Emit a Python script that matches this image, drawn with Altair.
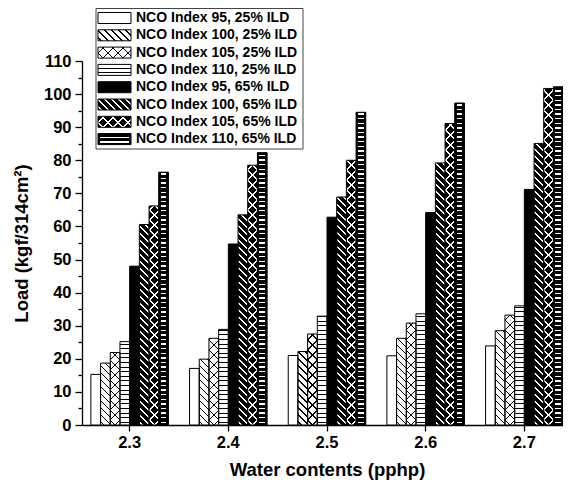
import altair as alt

# ---------------- data ----------------
water = ["2.3", "2.4", "2.5", "2.6", "2.7"]
series = [
    "NCO Index 95, 25% ILD",
    "NCO Index 100, 25% ILD",
    "NCO Index 105, 25% ILD",
    "NCO Index 110, 25% ILD",
    "NCO Index 95, 65% ILD",
    "NCO Index 100, 65% ILD",
    "NCO Index 105, 65% ILD",
    "NCO Index 110, 65% ILD",
]
v95_25 = [15.3, 17.1, 21.0, 20.9, 23.9]
v100_25 = [18.7, 19.9, 22.2, 26.2, 28.5]
v105_25 = [21.9, 26.2, 27.5, 30.8, 33.2]
v110_25 = [25.2, 28.9, 32.9, 33.6, 36.0]
v95_65 = [48.0, 54.7, 62.8, 64.2, 71.2]
v100_65 = [60.6, 63.5, 68.9, 79.2, 85.1]
v105_65 = [66.2, 78.5, 80.0, 91.1, 101.7]
v110_65 = [76.4, 82.3, 94.5, 97.3, 102.2]
series_values = [v95_25, v100_25, v105_25, v110_25, v95_65, v100_65, v105_65, v110_65]

# ---------------- layout / style ----------------
FONT = "Liberation Sans"
PLOT_W, PLOT_H = 481, 364
X_RANGE = 490          # x axis runs on past the right edge, as in the original
Y_MAX = 110
PAD_INNER, PAD_OUTER = 0.214, 0.09
STEP = X_RANGE / (len(water) - PAD_INNER + 2 * PAD_OUTER)
BAR_W = STEP * (1 - PAD_INNER) / len(series)
PX_PER_UNIT = PLOT_H / Y_MAX
CLEAR = "rgba(0,0,0,0)"

# (background, line colour, pattern kind)
styles = [
    ("white", "black", None),
    ("white", "black", "back"),
    ("white", "black", "cross"),
    ("white", "black", "horiz"),
    ("black", "black", None),
    ("black", "white", "back"),
    ("black", "white", "cross"),
    ("black", "white", "horiz"),
]


def stripe_stops(total, period, lw, phase, bg, fg):
    stops = [{"offset": 0.0, "color": bg}]
    c = phase
    while c - period > -lw:
        c -= period
    while c - lw / 2 < total:
        a = max(0.0, c - lw / 2)
        b = min(total, c + lw / 2)
        if b > a:
            oa, ob = round(a / total, 4), round(b / total, 4)
            stops += [
                {"offset": oa, "color": bg},
                {"offset": oa, "color": fg},
                {"offset": ob, "color": fg},
                {"offset": ob, "color": bg},
            ]
        c += period
    stops.append({"offset": 1.0, "color": bg})
    return stops


def diag(w, h, direction, period, lw, bg, fg):
    total = w + h
    t = total / (w * w + h * h)
    if direction == "back":
        g = {"gradient": "linear", "x1": 0, "y1": 1, "x2": t * w, "y2": 1 - t * h}
        phase = period / 2
    else:
        g = {"gradient": "linear", "x1": 0, "y1": 0, "x2": t * w, "y2": t * h}
        phase = (h + period / 2) % period
    g["stops"] = stripe_stops(total, period, lw * 1.414, phase, bg, fg)
    return g


def horiz(w, h, period, lw, bg, fg):
    return {"gradient": "linear", "x1": 0, "y1": 1, "x2": 0, "y2": 0,
            "stops": stripe_stops(h, period, lw, period * 0.6, bg, fg)}


def side_margins(w, m):
    f = round(m / w, 4)
    return {"gradient": "linear", "x1": 0, "y1": 0, "x2": 1, "y2": 0,
            "stops": [{"offset": 0, "color": "black"}, {"offset": f, "color": "black"},
                      {"offset": f, "color": CLEAR}, {"offset": 1 - f, "color": CLEAR},
                      {"offset": 1 - f, "color": "black"}, {"offset": 1, "color": "black"}]}


def pattern(si, w, h):
    bg, fg, kind = styles[si]
    lw = 1.0 if fg == "black" else 1.4
    if kind is None:
        return bg, "none"
    if kind == "back":
        return diag(w, h, "back", 7, lw, bg, fg), "none"
    if kind == "cross":
        return diag(w, h, "back", 10, lw, bg, fg), diag(w, h, "fwd", 10, lw, CLEAR, fg)
    g1 = horiz(w, h, 4.6, lw, bg, fg)
    g2 = side_margins(w, 2.0) if bg == "black" else "none"
    return g1, g2


bar_rows = []
for si, (name, vals) in enumerate(zip(series, series_values)):
    for wi, wc in enumerate(water):
        g1, g2 = pattern(si, BAR_W, vals[wi] * PX_PER_UNIT)
        bar_rows.append({"water": wc, "sid": si, "series": name, "load": vals[wi], "g1": g1, "g2": g2})

SYM_W, SYM_H = 33, 11
ROW_STEP = 17.3
leg_rows = []
for si, name in enumerate(series):
    g1, g2 = pattern(si, SYM_W, SYM_H)
    leg_rows.append({"sid": si, "label": name, "g1": g1, "g2": g2,
                     "y0": si - SYM_H / 2 / ROW_STEP, "y1": si + SYM_H / 2 / ROW_STEP})

# ---------------- bars ----------------
x_enc = alt.X("water:N", sort=water,
              scale=alt.Scale(paddingInner=PAD_INNER, paddingOuter=PAD_OUTER, range=[0, X_RANGE]),
              axis=alt.Axis(title="Water contents (pphp)", labelAngle=0, labelFontSize=16.5,
                            labelFontWeight="bold", titleFontSize=18.5, titleFontWeight="bold",
                            tickSize=6, labelPadding=3, titlePadding=9.5))
xo_enc = alt.XOffset("sid:O", scale=alt.Scale(paddingInner=0, paddingOuter=0))
y_enc = alt.Y("load:Q", stack=None, scale=alt.Scale(domain=[0, Y_MAX], nice=False),
              axis=alt.Axis(title="Load (kgf/314cm²)", values=list(range(0, 111, 5)),
                            labelExpr="datum.value % 10 === 0 ? datum.label : ''",
                            tickSize={"condition": {"test": "datum.value % 10 !== 0", "value": 4}, "value": 7},
                            labelOverlap=False, labelFlush=False, labelFontSize=16.5,
                            labelFontWeight="bold", titleFontSize=18.5, titleFontWeight="bold",
                            labelPadding=4, titlePadding=12))

bar_base = alt.Chart(alt.Data(values=bar_rows))
bars_fill = bar_base.mark_bar(strokeWidth=0).encode(
    x=x_enc, xOffset=xo_enc, y=y_enc, fill=alt.Fill("g1:N", scale=None, legend=None))
bars_over = bar_base.mark_bar(stroke="black", strokeWidth=1).encode(
    x=x_enc, xOffset=xo_enc, y=y_enc, fill=alt.Fill("g2:N", scale=None, legend=None))
bars = alt.layer(bars_fill, bars_over)

# ---------------- legend ----------------
leg_scale = alt.Scale(domain=[0, 7], range=[-43, -43 + 7 * ROW_STEP])
leg_base = alt.Chart(alt.Data(values=leg_rows))
box = alt.Chart(alt.Data(values=[{"k": 0}])).mark_rect(
    fill="white", stroke="#444", strokeWidth=1).encode(
    x=alt.value(14), x2=alt.value(221), y=alt.value(-52.5), y2=alt.value(88))
sym_fill = leg_base.mark_rect(strokeWidth=0).encode(
    x=alt.value(16), x2=alt.value(16 + SYM_W),
    y=alt.Y("y0:Q", scale=leg_scale, axis=None), y2="y1:Q",
    fill=alt.Fill("g1:N", scale=None, legend=None))
sym_over = leg_base.mark_rect(stroke="black", strokeWidth=1).encode(
    x=alt.value(16), x2=alt.value(16 + SYM_W),
    y=alt.Y("y0:Q", scale=leg_scale, axis=None), y2="y1:Q",
    fill=alt.Fill("g2:N", scale=None, legend=None))
labels = leg_base.mark_text(align="left", baseline="middle", font=FONT, fontSize=14,
                            fontWeight="bold", color="black").encode(
    x=alt.value(54), y=alt.Y("sid:Q", scale=leg_scale, axis=None), text="label:N")
legend = alt.layer(box, sym_fill, sym_over, labels)

chart = (
    alt.layer(bars, legend)
    .resolve_scale(y="independent")
    .properties(width=PLOT_W, height=PLOT_H,
                autosize=alt.AutoSizeParams(type="none"),
                padding={"left": 74, "top": 53, "right": 0, "bottom": 55})
    .configure_view(stroke=None)
    .configure_axis(labelFont=FONT, titleFont=FONT, labelColor="black", titleColor="black",
                    domainColor="black", tickColor="black", domainWidth=1.3, tickWidth=1.3,
                    grid=False)
)

chart.save("out.html", embed_options={"renderer": "svg", "actions": False})
